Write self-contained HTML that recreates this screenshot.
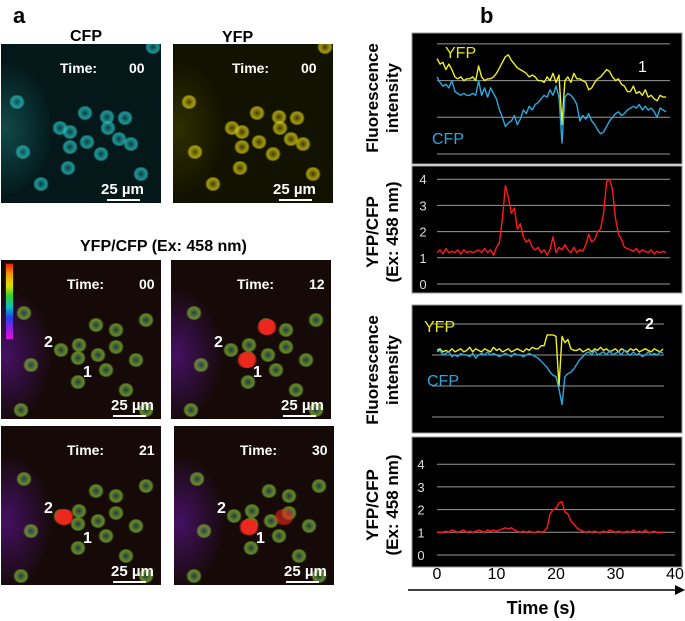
<!DOCTYPE html>
<html><head><meta charset="utf-8">
<style>
body{margin:0;background:#fff;width:685px;height:621px;position:relative;overflow:hidden;font-family:"Liberation Sans",Arial,sans-serif}
.t{position:absolute;font-weight:bold;color:#000;white-space:nowrap}
.img{position:absolute;width:160px;height:159px;overflow:hidden;background:#050a0a}
.lbl{position:absolute;color:#fff;font-weight:bold;font-size:14px;white-space:nowrap}
.blob{position:absolute;border-radius:50%}
.bar{position:absolute;height:2px;background:#fff}
</style></head><body>
<div class="t" style="left:13px;top:3px;font-size:22px">a</div>
<div class="t" style="left:70px;top:28px;font-size:16px">CFP</div>
<div class="t" style="left:222px;top:29px;font-size:16px">YFP</div>
<div class="t" style="left:80px;top:238px;font-size:16px">YFP/CFP (Ex: 458 nm)</div>

<div class="img" id="cfp" style="left:1px;top:44px;background:#041819"></div>
<div class="img" id="yfp" style="left:173px;top:44px;background:#121200"></div>
<div class="img" id="r00" style="left:1px;top:260px;background:#150a07"></div>
<div class="img" id="r12" style="left:171px;top:260px;background:#150a07"></div>
<div class="img" id="r21" style="left:1px;top:426px;background:#150a07"></div>
<div class="img" id="r30" style="left:174px;top:426px;background:#150a07"></div>

<div class="t" style="left:480px;top:3px;font-size:22px">b</div>

<svg id="chart" width="685" height="621" style="position:absolute;left:0;top:0"></svg>

<script>
// ---------- microscopy images (decorative) ----------
const cellsTop=[[84,69],[69,88],[59,84],[69,103],[86,98],[106,73],[107,84],[124,74],[22,108],[16,58],[67,124],[152,3],[130,100],[140,130],[40,140],[100,110],[118,95]];
const cellsRatio=[[95,65],[78,85],[60,90],[77,98],[97,95],[115,70],[115,87],[30,105],[23,53],[77,122],[135,100],[145,60],[125,130],[20,150],[145,150],[105,110]];
function blobs(id,cells,col,ring,r){
  const el=document.getElementById(id);
  cells.forEach(c=>{const b=document.createElement('div');b.className='blob';
    
    
    b.style.left=(c[0]-r)+'px';b.style.top=(c[1]-r*0.85)+'px';b.style.width=2*r+'px';b.style.height=1.7*r+'px';
    b.style.background=`radial-gradient(circle, ${ring} 0%, ${col} 45%, ${col} 55%, transparent 75%)`;el.appendChild(b);});
}
function haze(id,a,col){const el=document.getElementById(id);
  const h=document.createElement('div');h.className='blob';
  
  
  h.style.cssText=`left:-40px;top:${a}px;width:90px;height:130px;background:radial-gradient(ellipse, ${col} 0%, transparent 75%)`;
  el.appendChild(h);}
haze('cfp',20,'rgba(30,120,120,0.5)');
haze('yfp',20,'rgba(90,90,0,0.4)');
blobs('cfp',cellsTop,'rgba(40,190,190,0.7)','rgba(20,100,100,0.5)',8);
blobs('yfp',cellsTop,'rgba(210,200,20,0.7)','rgba(110,100,10,0.5)',8);
['r00','r12','r21','r30'].forEach(id=>{
  haze(id,30,'rgba(100,20,160,0.6)');
  blobs(id,cellsRatio,'rgba(120,170,50,0.75)','rgba(40,90,110,0.6)',8);
});
function red(id,x,y,a){const el=document.getElementById(id);const b=document.createElement('div');b.className='blob';
  
  
  b.style.cssText=`left:${x-11}px;top:${y-8}px;width:22px;height:16px;background:radial-gradient(circle, rgba(235,40,30,${a}) 0%, rgba(235,40,30,${a}) 55%, transparent 75%)`;el.appendChild(b);}
red('r12',96,67,1);red('r12',76,100,1);red('r21',63,91,1);red('r30',75,101,1);red('r30',110,91,0.6);
function lab(id,html,x,y,size){const el=document.getElementById(id);const d=document.createElement('div');d.className='lbl';
  
  
  d.style.left=x+'px';d.style.top=y+'px';if(size)d.style.fontSize=size+'px';d.innerHTML=html;el.appendChild(d);}
const timesTxt={cfp:'00',yfp:'00',r00:'00',r12:'12',r21:'21',r30:'30'};
Object.keys(timesTxt).forEach(id=>{
  const top16=id==='cfp'||id==='yfp';
  lab(id,'Time:',top16?59:66,16);
  lab(id,timesTxt[id],top16?128:138,16);
  lab(id,'25 µm',top16?100:110,137,15);
  const b=document.createElement('div');b.className='bar';
  
  
  b.style.left=(top16?106:112)+'px';b.style.width='33px';b.style.top='155px';
  document.getElementById(id).appendChild(b);
});
['r00','r12','r21','r30'].forEach(id=>{lab(id,'2',43,74,16);lab(id,'1',82,104,16);});
const cb=document.createElement('div');


cb.style.cssText='position:absolute;left:4px;top:3px;width:7px;height:75px;border:1px solid #222;background:linear-gradient(#f02010,#f0a000,#e0e000,#30d030,#10c0c0,#2040f0,#9020e0,#e010e0)';
document.getElementById('r00').appendChild(cb);
</script>

<script>
// ---------- traces ----------
const timeStep = 0.5;
const yfp1 = [2.6,2.45,2.5,2.3,2.45,2.3,2.1,2.05,2.1,2.0,2.05,2.05,2.1,2.0,2.4,2.1,2.0,2.05,2.05,2.1,2.2,2.35,2.5,2.65,2.7,2.55,2.45,2.35,2.3,2.25,2.2,2.1,2.15,2.1,2.0,2.0,1.95,2.1,2.0,2.2,1.95,2.15,0.8,2.0,2.1,1.95,2.2,2.05,2.05,2.0,1.95,1.75,1.8,1.95,2.05,2.1,2.2,2.3,2.25,2.1,2.0,2.05,1.9,1.85,1.7,1.7,1.85,1.65,1.7,1.6,1.75,1.55,1.6,1.5,1.45,1.6,1.55,1.55];
const cfp1 = [2.1,1.95,1.85,1.9,1.8,2.0,1.7,1.65,1.6,1.65,1.6,1.6,1.65,1.6,2.0,1.6,1.8,1.55,1.8,1.65,1.5,1.2,1.0,0.75,0.85,0.9,1.05,0.8,0.95,1.2,1.1,1.3,1.2,1.35,1.4,1.5,1.6,1.55,1.75,1.6,1.85,1.55,0.3,1.55,1.65,1.6,1.5,1.35,0.9,1.05,0.95,1.1,0.9,0.8,0.65,0.55,0.6,0.75,0.9,1.0,1.1,1.15,1.05,1.1,1.2,1.25,1.3,1.25,1.35,1.2,1.3,1.2,1.25,1.15,1.0,1.25,1.2,1.15];
const ratio1 = [1.2,1.3,1.15,1.35,1.2,1.25,1.2,1.3,1.15,1.3,1.2,1.25,1.2,1.25,1.3,1.2,1.35,1.2,1.3,1.1,1.4,1.6,2.5,3.75,3.3,2.7,2.9,2.1,2.3,1.8,1.6,1.7,1.4,1.3,1.4,1.2,1.3,1.1,1.3,1.8,1.2,1.4,1.3,1.5,1.3,1.2,1.4,1.2,1.3,1.25,1.5,1.9,1.6,1.7,2.0,2.1,2.7,3.9,4.0,3.6,2.5,1.9,1.7,1.4,1.35,1.3,1.25,1.35,1.2,1.3,1.25,1.2,1.3,1.15,1.25,1.2,1.25,1.2];
const yfp2 = [2.15,2.2,2.1,2.15,2.1,2.2,2.1,2.15,2.2,2.1,2.15,2.25,2.1,2.2,2.15,2.1,2.2,2.15,2.1,2.25,2.15,2.2,2.1,2.15,2.2,2.1,2.15,2.2,2.15,2.1,2.2,2.15,2.25,2.2,2.2,2.3,2.3,2.65,2.65,2.65,2.6,1.0,2.6,2.4,2.5,2.2,2.15,2.15,2.2,2.1,2.15,2.2,2.1,2.2,2.15,2.25,2.15,2.2,2.1,2.15,2.2,2.1,2.2,2.15,2.1,2.2,2.15,2.2,2.1,2.15,2.2,2.15,2.1,2.2,2.15,2.1,2.2];
const cfp2 = [2.1,2.15,2.0,2.05,2.1,1.95,2.0,1.95,2.05,2.0,2.0,1.95,2.05,1.9,2.0,2.05,2.0,2.1,2.0,2.05,2.0,1.95,2.0,2.05,2.0,1.95,2.05,2.0,2.0,1.95,2.0,2.05,2.0,1.95,1.9,1.8,1.7,1.6,1.45,1.35,1.3,0.9,0.4,1.3,1.4,1.45,1.55,1.7,1.85,1.95,2.05,2.1,2.0,2.15,2.0,2.05,2.1,2.0,2.15,2.0,2.05,2.1,2.0,2.15,2.05,2.0,2.1,2.0,2.05,1.95,2.0,2.1,2.0,2.05,2.0,2.1,2.05];
const ratio2 = [1.0,1.0,1.0,1.05,1.0,1.1,1.05,1.0,1.05,1.1,1.0,1.05,1.0,1.05,1.1,1.05,1.0,1.1,1.05,1.1,1.05,1.1,1.15,1.2,1.15,1.2,1.1,1.05,1.0,1.05,1.0,1.05,1.0,1.0,1.05,1.0,1.05,1.2,1.8,2.0,2.05,2.3,2.35,1.9,1.8,1.5,1.35,1.2,1.1,1.05,1.0,1.05,1.0,1.05,1.0,1.0,1.05,1.0,1.1,1.05,1.0,1.05,1.0,1.0,1.05,1.0,1.1,1.0,1.05,1.0,1.1,1.0,1.0,1.05,1.0,1.0,1.0];
const ratioTicks = [0,1,2,3,4];
const timeTicks = [0,10,20,30,40];

const svg=document.getElementById('chart');
const NS='http://www.w3.org/2000/svg';
function el(tag,attrs,name,txt){const e=document.createElementNS(NS,tag);for(const k in attrs)e.setAttribute(k,attrs[k]);
  
  
  if(txt!==undefined)e.textContent=txt;svg.appendChild(e);return e;}
const xScale=t=>437+t*5.95;
function panel(top,h,name){el('rect',{x:412,y:top,width:270,height:h,fill:'#000',stroke:'#999','stroke-width':1},name);}
function line(vals,ys,color,name){
  const pts=vals.map((v,i)=>xScale(i*timeStep).toFixed(1)+','+ys(v).toFixed(1)).join(' ');
  el('polyline',{points:pts,fill:'none',stroke:color,'stroke-width':1.4,'stroke-linejoin':'round'},name);
}
panel(33,131,'fluorescence-panel-1');
const yF1=v=>154-v*36.7;
[0,1,2,3].forEach(g=>el('line',{x1:437,x2:670,y1:yF1(g),y2:yF1(g),stroke:'#999','stroke-width':1},'gridline'));
line(yfp1,yF1,'#f0f020','yfp-trace-1');
line(cfp1,yF1,'#2aa8e0','cfp-trace-1');
el('text',{x:445,y:58,fill:'#e8e820','font-size':16},'yfp-legend-1','YFP');
el('text',{x:432,y:144,fill:'#2aa8e0','font-size':16},'cfp-legend-1','CFP');
el('text',{x:638,y:72,fill:'#fff','font-size':16},'cell-1-label','1');
panel(166,127,'ratio-panel-1');
const yR1=v=>284-v*26.2;
ratioTicks.forEach(g=>{el('line',{x1:437,x2:670,y1:yR1(g),y2:yR1(g),stroke:'#999','stroke-width':1},'gridline');
  el('text',{x:423,y:yR1(g)+5,fill:'#ddd','font-size':13,'text-anchor':'middle'},'y-tick-label',g);});
line(ratio1,yR1,'#ff1a1a','ratio-trace-1');
panel(305,128,'fluorescence-panel-2');
const yF2=v=>417-v*31;
[0,1,2,3].forEach(g=>el('line',{x1:432,x2:664,y1:yF2(g),y2:yF2(g),stroke:'#999','stroke-width':1},'gridline'));
line(yfp2,yF2,'#f0f020','yfp-trace-2');
line(cfp2,yF2,'#2aa8e0','cfp-trace-2');
el('text',{x:424,y:332,fill:'#e8e820','font-size':16},'yfp-legend-2','YFP');
el('text',{x:427,y:386,fill:'#2aa8e0','font-size':16},'cfp-legend-2','CFP');
el('text',{x:645,y:329,fill:'#fff','font-size':16,'font-weight':'bold'},'cell-2-label','2');
panel(437,130,'ratio-panel-2');
const yR2=v=>555-v*22.7;
ratioTicks.forEach(g=>{el('line',{x1:437,x2:675,y1:yR2(g),y2:yR2(g),stroke:'#999','stroke-width':1},'gridline');
  el('text',{x:421,y:yR2(g)+5,fill:'#ddd','font-size':13,'text-anchor':'middle'},'y-tick-label',g);});
line(ratio2,yR2,'#ff1a1a','ratio-trace-2');
timeTicks.forEach(t=>el('text',{x:437+t*5.95,y:579,fill:'#000','font-size':16,'text-anchor':'middle'},'x-tick-label',t));
el('line',{x1:408,x2:677,y1:590,y2:590,stroke:'#000','stroke-width':1.5},'time-axis-arrow');
el('polygon',{points:'685,590 675,585 675,595',fill:'#000'},'time-axis-arrowhead');
el('text',{x:541,y:614,fill:'#000','font-size':18,'font-weight':'bold','text-anchor':'middle'},'x-axis-title','Time  (s)');
function ytitle(cx,cy,txt,name){el('text',{x:0,y:0,transform:`translate(${cx},${cy}) rotate(-90)`,'font-size':17,'font-weight':'bold','text-anchor':'middle',fill:'#000'},name,txt);}
ytitle(378,98,'Fluorescence','y-title-fluorescence-1');ytitle(398,98,'intensity','y-title-intensity-1');
ytitle(378,232,'YFP/CFP','y-title-ratio-1');ytitle(398,232,'(Ex: 458 nm)','y-title-ex-1');
ytitle(378,370,'Fluorescence','y-title-fluorescence-2');ytitle(398,370,'intensity','y-title-intensity-2');
ytitle(378,505,'YFP/CFP','y-title-ratio-2');ytitle(398,505,'(Ex: 458 nm)','y-title-ex-2');
</script>
</body></html>
